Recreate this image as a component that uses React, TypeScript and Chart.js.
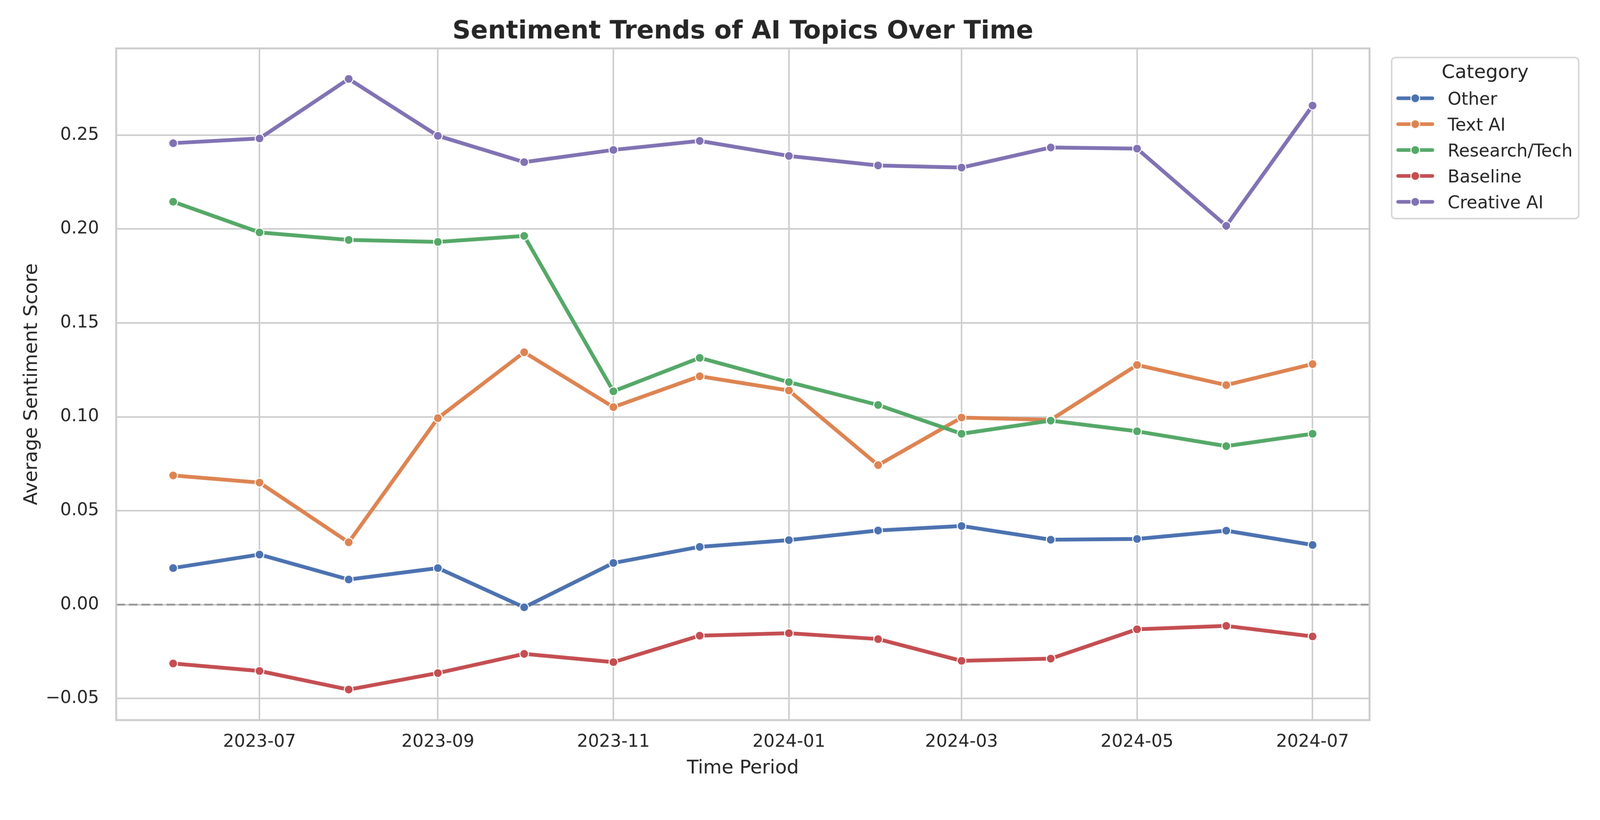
import React, { useEffect, useRef } from 'react';
import { Chart, registerables } from 'chart.js';

Chart.register(...registerables);

// ---- Data ----
const MONTHS = [
  '2023-06', '2023-07', '2023-08', '2023-09', '2023-10', '2023-11', '2023-12',
  '2024-01', '2024-02', '2024-03', '2024-04', '2024-05', '2024-06', '2024-07',
];

const CATEGORIES = ['Other', 'Text AI', 'Research/Tech', 'Baseline', 'Creative AI'];

const OTHER = [0.0195, 0.0267, 0.0134, 0.0195, -0.0014, 0.0222, 0.0308, 0.0344, 0.0395, 0.0419, 0.0346, 0.035, 0.0394, 0.0318];
const TEXT_AI = [0.0688, 0.065, 0.0332, 0.0993, 0.1344, 0.1052, 0.1216, 0.114, 0.0743, 0.0996, 0.0984, 0.1276, 0.1169, 0.1281];
const RESEARCH_TECH = [0.2145, 0.1982, 0.1942, 0.1931, 0.1963, 0.1136, 0.1314, 0.1185, 0.1063, 0.091, 0.098, 0.0923, 0.0844, 0.091];
const BASELINE = [-0.0313, -0.0353, -0.0452, -0.0364, -0.0262, -0.0306, -0.0165, -0.0152, -0.0183, -0.0299, -0.0287, -0.0131, -0.0113, -0.0169];
const CREATIVE_AI = [0.2457, 0.2482, 0.2799, 0.2496, 0.2356, 0.2421, 0.2469, 0.2389, 0.2338, 0.2327, 0.2434, 0.2428, 0.2017, 0.2657];

const SERIES_VALUES = [OTHER, TEXT_AI, RESEARCH_TECH, BASELINE, CREATIVE_AI];
const COLORS = ['#4c72b0', '#dd8452', '#55a868', '#c44e52', '#8172b3'];

const X_TICK_LABELS = ['2023-07', '2023-09', '2023-11', '2024-01', '2024-03', '2024-05', '2024-07'];
const Y_TICKS = [-0.05, 0, 0.05, 0.1, 0.15, 0.2, 0.25];

const TITLE = 'Sentiment Trends of AI Topics Over Time';
const X_TITLE = 'Time Period';
const Y_TITLE = 'Average Sentiment Score';
const LEGEND_TITLE = 'Category';

// ---- Helpers ----
const toDay = (ym: string) => {
  const [y, m] = ym.split('-').map(Number);
  return Date.UTC(y, m - 1, 1) / 86400000;
};

const FONT = '"DejaVu Sans", "Liberation Sans", sans-serif';
const TEXT_COLOR = '#262626';

export default function App() {
  const ref = useRef<HTMLCanvasElement>(null);

  useEffect(() => {
    const canvas = ref.current;
    if (!canvas) return;

    const xs = MONTHS.map(toDay);
    const xSpan = xs[xs.length - 1] - xs[0];
    const all = SERIES_VALUES.flat();
    const yMinData = Math.min(...all);
    const yMaxData = Math.max(...all);
    const ySpan = yMaxData - yMinData;

    const decor = {
      id: 'decor',
      beforeDatasetsDraw(chart: any) {
        const { ctx, chartArea: ca, scales } = chart;
        const y0 = scales.y.getPixelForValue(0);
        ctx.save();
        ctx.strokeStyle = 'rgba(128,128,128,0.7)';
        ctx.lineWidth = 5;
        ctx.setLineDash([23, 10]);
        ctx.beginPath();
        ctx.moveTo(ca.left, y0);
        ctx.lineTo(ca.right, y0);
        ctx.stroke();
        ctx.restore();
      },
      afterDraw(chart: any) {
        const { ctx, chartArea: ca } = chart;
        ctx.save();
        // spines
        ctx.strokeStyle = '#cccccc';
        ctx.lineWidth = 5;
        ctx.strokeRect(ca.left, ca.top, ca.right - ca.left, ca.bottom - ca.top);

        // titles
        ctx.fillStyle = TEXT_COLOR;
        ctx.textAlign = 'center';
        ctx.textBaseline = 'alphabetic';
        ctx.font = `bold 66.7px ${FONT}`;
        ctx.fillText(TITLE, (ca.left + ca.right) / 2, 101);
        ctx.font = `50px ${FONT}`;
        ctx.fillText(X_TITLE, (ca.left + ca.right) / 2, 2031);
        ctx.save();
        ctx.translate(97, (ca.top + ca.bottom) / 2);
        ctx.rotate(-Math.PI / 2);
        ctx.fillText(Y_TITLE, 0, 0);
        ctx.restore();

        // legend
        const lx = 3653, ly = 151, lw = 491, lh = 423;
        ctx.beginPath();
        (ctx as any).roundRect(lx, ly, lw, lh, 10);
        ctx.fillStyle = 'rgba(255,255,255,0.8)';
        ctx.fill();
        ctx.strokeStyle = '#d6d6d6';
        ctx.lineWidth = 4;
        ctx.stroke();

        ctx.fillStyle = TEXT_COLOR;
        ctx.font = `50px ${FONT}`;
        ctx.textAlign = 'center';
        ctx.fillText(LEGEND_TITLE, lx + lw / 2, 205);

        ctx.font = `45.8px ${FONT}`;
        ctx.textAlign = 'left';
        chart.data.datasets.forEach((ds: any, i: number) => {
          const cy = 258 + i * 68;
          ctx.strokeStyle = ds.borderColor;
          ctx.lineWidth = 9.5;
          ctx.lineCap = 'round';
          ctx.beginPath();
          ctx.moveTo(3670, cy);
          ctx.lineTo(3760, cy);
          ctx.stroke();
          ctx.beginPath();
          ctx.arc(3715, cy, 11.5, 0, Math.PI * 2);
          ctx.fillStyle = ds.borderColor;
          ctx.fill();
          ctx.strokeStyle = '#ffffff';
          ctx.lineWidth = 2.5;
          ctx.stroke();
          ctx.fillStyle = TEXT_COLOR;
          ctx.fillText(ds.label, 3800, cy + 16.7);
        });
        ctx.restore();
      },
    };

    const chart = new Chart(canvas, {
      type: 'line',
      data: {
        datasets: CATEGORIES.map((label, i) => ({
          label,
          data: xs.map((x, j) => ({ x, y: SERIES_VALUES[i][j] })),
          borderColor: COLORS[i],
          backgroundColor: COLORS[i],
          pointBackgroundColor: COLORS[i],
          pointBorderColor: '#ffffff',
          pointBorderWidth: 2.5,
          pointRadius: 11.5,
          pointHoverRadius: 11.5,
          borderWidth: 10,
          borderJoinStyle: 'round',
          tension: 0,
          fill: false,
          order: CATEGORIES.length - 1 - i,
        })),
      },
      options: {
        animation: false,
        responsive: false,
        devicePixelRatio: 1,
        events: [],
        layout: { padding: { left: 0, top: 127, right: 605, bottom: 0 } },
        plugins: {
          legend: { display: false },
          title: { display: false },
          tooltip: { enabled: false },
        },
        scales: {
          x: {
            type: 'linear',
            min: xs[0] - 0.05 * xSpan,
            max: xs[xs.length - 1] + 0.05 * xSpan,
            afterBuildTicks: (scale: any) => {
              scale.ticks = X_TICK_LABELS.map((l) => ({ value: toDay(l) }));
            },
            afterFit: (scale: any) => {
              scale.height = 209;
            },
            ticks: {
              callback: (_v: any, idx: number) => X_TICK_LABELS[idx],
              color: TEXT_COLOR,
              font: { family: FONT, size: 45.8, lineHeight: 1.2 },
              padding: 31,
              maxRotation: 0,
              minRotation: 0,
              autoSkip: false,
            },
            grid: { color: '#cccccc', lineWidth: 4, drawTicks: false },
            border: { display: false },
          },
          y: {
            type: 'linear',
            min: yMinData - 0.05 * ySpan,
            max: yMaxData + 0.05 * ySpan,
            afterBuildTicks: (scale: any) => {
              scale.ticks = Y_TICKS.map((v) => ({ value: v }));
            },
            afterFit: (scale: any) => {
              scale.width = 305;
            },
            ticks: {
              callback: (v: any) => {
                const n = Number(v);
                return n < -1e-9 ? '\u2212' + Math.abs(n).toFixed(2) : Math.abs(n).toFixed(2);
              },
              color: TEXT_COLOR,
              font: { family: FONT, size: 45.8, lineHeight: 1.2 },
              padding: 45,
              autoSkip: false,
            },
            grid: { color: '#cccccc', lineWidth: 4, drawTicks: false },
            border: { display: false },
          },
        },
      } as any,
      plugins: [decor],
    });

    return () => {
      chart.destroy();
    };
  }, []);

  return (
    <div style={{ position: 'fixed', left: 0, top: 0, width: '100vw', height: '50vw', background: '#ffffff', overflow: 'hidden' }}>
      <canvas ref={ref} width={4200} height={2100} style={{ display: 'block', width: '100vw', height: '50vw' }} />
    </div>
  );
}
